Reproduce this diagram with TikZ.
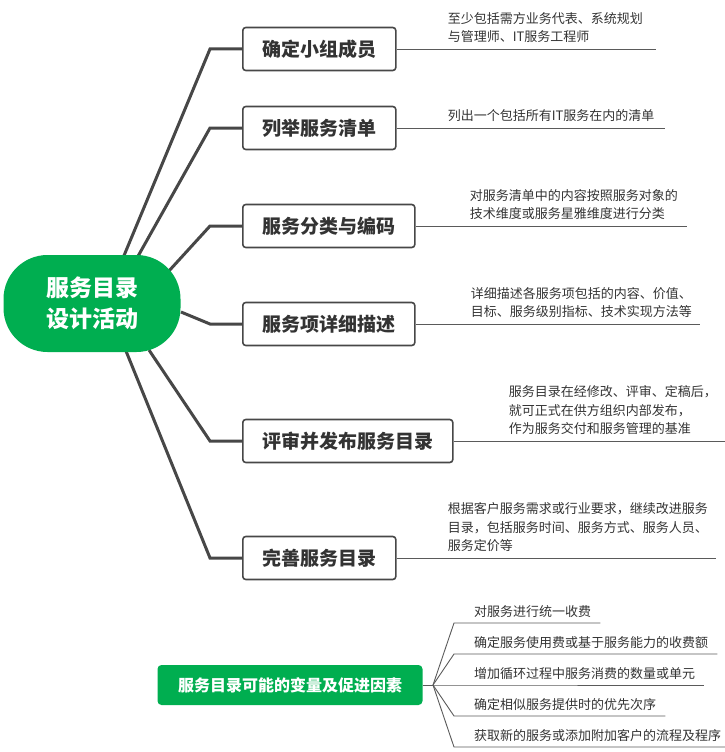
\documentclass[tikz,border=0pt]{standalone}
\usepackage{fontspec}
\setmainfont{Noto Sans CJK SC}
\usetikzlibrary{positioning,calc,backgrounds}
\definecolor{mapgreen}{HTML}{00AE50}
\definecolor{linegray}{HTML}{474747}
\definecolor{inkgray}{HTML}{333333}
\definecolor{rulegray}{HTML}{5A5A5A}

\tikzset{
  hub/.style={fill=mapgreen, text=white, rounded corners=44pt, minimum width=177pt,
    minimum height=97pt, align=center, font=\fontsize{23}{31}\selectfont\bfseries},
  branch/.style={draw=linegray, line width=1.6pt, fill=white, rounded corners=3pt,
    anchor=west, minimum height=43pt, inner xsep=19.5pt, text=inkgray,
    font=\fontsize{19}{19}\selectfont\bfseries},
  note/.style={anchor=south west, align=left, inner xsep=0pt, inner ysep=7pt,
    text depth=0pt, text=inkgray, font=\fontsize{13}{18.5}\selectfont},
  factor/.style={fill=mapgreen, text=white, rounded corners=4pt, minimum width=265pt,
    minimum height=40pt, font=\fontsize{16}{16}\selectfont\bfseries},
  item/.style={anchor=south west, inner xsep=0pt, inner ysep=6pt, text depth=0pt,
    text=inkgray, font=\fontsize{13}{13}\selectfont},
  trunk/.style={draw=linegray, line width=3pt},
  rule/.style={draw=rulegray, line width=0.8pt},
  twig/.style={draw=rulegray, line width=0.9pt}
}

\begin{document}
\begin{tikzpicture}[x=1pt,y=-1pt]
  \useasboundingbox (0,0) rectangle (725,752);

  \node[hub] (hub) at (92,303.5) {服务目录\\设计活动};

  % branches
  \node[branch] (team) at (242,49) {确定小组成员};
  \node[branch] (list) at (242,128) {列举服务清单};
  \node[branch] (code) at (242,226) {服务分类与编码};
  \node[branch] (detail) at (242,324) {服务项详细描述};
  \node[branch] (publish) at (242,441) {评审并发布服务目录};
  \node[branch] (improve) at (242,558) {完善服务目录};

  % notes
  \node[note] (teamnote) at ([xshift=51pt]team.east) {至少包括需方业务代表、系统规划\\与管理师、IT服务工程师};
  \node[note] (listnote) at ([xshift=51pt]list.east) {列出一个包括所有IT服务在内的清单};
  \node[note] (codenote) at ([xshift=54pt]code.east) {对服务清单中的内容按照服务对象的\\技术维度或服务星雅维度进行分类};
  \node[note] (detailnote) at ([xshift=55pt]detail.east) {详细描述各服务项包括的内容、价值、\\目标、服务级别指标、技术实现方法等};
  \node[note] (publishnote) at ([xshift=55pt]publish.east) {服务目录在经修改、评审、定稿后，\\就可正式在供方组织内部发布，\\作为服务交付和服务管理的基准};
  \node[note] (improvenote) at ([xshift=51pt]improve.east) {根据客户服务需求或行业要求，继续改进服务\\目录，包括服务时间、服务方式、服务人员、\\服务定价等};

  \begin{scope}[on background layer]
    \draw[trunk] ([shift={(31,-45.5)}]hub.center) -- ([xshift=-32pt]team.west) -- (team.west);
    \draw[trunk] ([shift={(45,-45.5)}]hub.center) -- ([xshift=-32pt]list.west) -- (list.west);
    \draw[trunk] ([shift={(76,-31.5)}]hub.center) -- ([xshift=-32pt]code.west) -- (code.west);
    \draw[trunk] ([shift={(89,8.5)}]hub.center) -- ([xshift=-32pt]detail.west) -- (detail.west);
    \draw[trunk] ([shift={(57,46.5)}]hub.center) -- ([xshift=-32pt]publish.west) -- (publish.west);
    \draw[trunk] ([shift={(34,47.5)}]hub.center) -- ([xshift=-32pt]improve.west) -- (improve.west);
  \end{scope}

  \draw[rule] (team.east) -- ([xshift=13pt]teamnote.south east);
  \draw[rule] (list.east) -- ([xshift=10pt]listnote.south east);
  \draw[rule] (code.east) -- ([xshift=9pt]codenote.south east);
  \draw[rule] (detail.east) -- ([xshift=8pt]detailnote.south east);
  \draw[rule] (publish.east) -- ([xshift=17pt]publishnote.south east);
  \draw[rule] (improve.east) -- ([xshift=8pt]improvenote.south east);

  % factors
  \node[factor] (factors) at (290,685) {服务目录可能的变量及促进因素};
  \coordinate (fork) at (433,685);
  \draw[twig] (factors.east) -- (fork);
  \foreach \txt [count=\i] in {对服务进行统一收费, 确定服务使用费或基于服务能力的收费额,
      增加循环过程中服务消费的数量或单元, 确定相似服务提供时的优先次序,
      获取新的服务或添加附加客户的流程及程序}{
    \node[item] (item\i) at (474,{592+31*\i}) {\txt};
    \draw[twig] (fork) -- ([xshift=-20pt]item\i.south west) -- ([xshift=9pt]item\i.south east);
  }
\end{tikzpicture}
\end{document}
